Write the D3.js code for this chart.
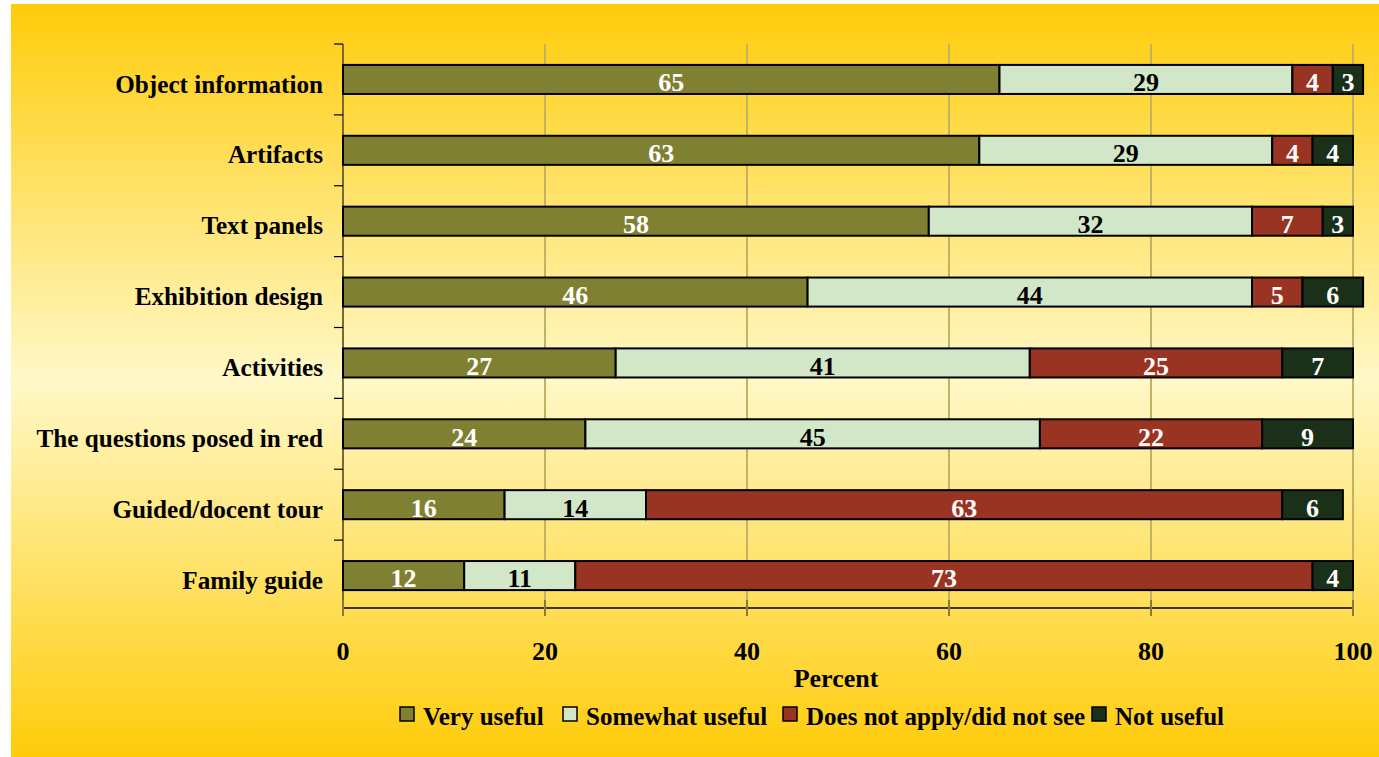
<!DOCTYPE html>
<html>
<head>
<meta charset="utf-8">
<script src="https://cdn.jsdelivr.net/npm/d3@7"></script>
<style>
  body { margin: 0; background: #fff; }
  svg text { font-family: "Liberation Serif", "DejaVu Serif", serif; font-weight: bold; }
</style>
</head>
<body>
<svg id="chart" width="1379" height="757"></svg>
<script>
// chart data
var categories = ['Object information', 'Artifacts', 'Text panels', 'Exhibition design',
  'Activities', 'The questions posed in red', 'Guided/docent tour', 'Family guide'];
var seriesNames = ['Very useful', 'Somewhat useful', 'Does not apply/did not see', 'Not useful'];
var veryUseful = [65, 63, 58, 46, 27, 24, 16, 12];
var somewhatUseful = [29, 29, 32, 44, 41, 45, 14, 11];
var doesNotApply = [4, 4, 7, 5, 25, 22, 63, 73];
var notUseful = [3, 4, 3, 6, 7, 9, 6, 4];
var xTicks = [0, 20, 40, 60, 80, 100];

var colors = ['#808033', '#D2E6C8', '#993322', '#1A3018'];
var labelColors = ['#fff', '#000', '#fff', '#fff'];

var svg = d3.select('#chart');

// background gradient, gold on top and bottom, pale in the middle
var grad = svg.append('defs').append('linearGradient')
  .attr('id', 'bg').attr('x1', 0).attr('y1', 0).attr('x2', 0).attr('y2', 1);
grad.append('stop').attr('offset', '0%').attr('stop-color', '#FFCC0A');
grad.append('stop').attr('offset', '50%').attr('stop-color', '#FFF8C8');
grad.append('stop').attr('offset', '100%').attr('stop-color', '#FFCC0A');
svg.append('rect').attr('x', 11).attr('y', 4).attr('width', 1368).attr('height', 753)
  .attr('fill', 'url(#bg)');

var plotL = 343, plotR = 1353, plotT = 44, plotB = 611;

var x = d3.scaleLinear().domain([0, 100]).range([plotL, plotR]);
var y = d3.scaleBand().domain(categories).range([plotT, plotB]).paddingInner(0.59).paddingOuter(0.295);
var yb = d3.scaleBand().domain(categories).range([plotT, plotB]);

// grid lines
svg.append('g').selectAll('line').data(xTicks.slice(1)).join('line')
  .attr('x1', d => x(d)).attr('x2', d => x(d))
  .attr('y1', plotT).attr('y2', plotB)
  .attr('stroke', '#C4B264').attr('stroke-width', 2);

// y axis line and ticks
svg.append('line').attr('x1', plotL).attr('x2', plotL).attr('y1', plotT).attr('y2', plotB)
  .attr('stroke', '#7A6A30').attr('stroke-width', 2);
var yTickPos = categories.map(c => yb(c));
svg.append('g').selectAll('line').data(yTickPos).join('line')
  .attr('x1', plotL - 9).attr('x2', plotL).attr('y1', d => d).attr('y2', d => d)
  .attr('stroke', '#000').attr('stroke-width', 1.2);

// category labels
svg.append('g').selectAll('text').data(categories).join('text')
  .attr('x', 323).attr('y', d => y(d) + y.bandwidth() / 2 + 4)
  .attr('dy', '0.36em').attr('text-anchor', 'end')
  .attr('font-size', 25.2).attr('fill', '#000')
  .text(d => d);

// stacked bars
var rows = categories.map(function(c, i) {
  return { cat: c, vals: [veryUseful[i], somewhatUseful[i], doesNotApply[i], notUseful[i]] };
});
var stackData = [];
rows.forEach(function(r) {
  var acc = 0;
  r.vals.forEach(function(v, k) {
    stackData.push({ cat: r.cat, k: k, v: v, x0: acc, x1: acc + v });
    acc += v;
  });
});

var bars = svg.append('g');
bars.selectAll('rect').data(stackData).join('rect')
  .attr('x', d => x(d.x0)).attr('width', d => x(d.x1) - x(d.x0))
  .attr('y', d => y(d.cat)).attr('height', y.bandwidth())
  .attr('fill', d => colors[d.k]).attr('stroke', '#000').attr('stroke-width', 2);

bars.selectAll('text').data(stackData).join('text')
  .attr('x', d => (x(d.x0) + x(d.x1)) / 2)
  .attr('y', d => y(d.cat) + y.bandwidth() / 2 + 1.5)
  .attr('dy', '0.4em').attr('text-anchor', 'middle')
  .attr('font-size', 26).attr('fill', d => labelColors[d.k])
  .text(d => d.v);

// x axis
svg.append('line').attr('x1', plotL).attr('x2', plotR).attr('y1', 608).attr('y2', 608)
  .attr('stroke', '#000').attr('stroke-width', 1.5);
svg.append('g').selectAll('line').data(xTicks).join('line')
  .attr('x1', d => x(d)).attr('x2', d => x(d)).attr('y1', 600).attr('y2', 616)
  .attr('stroke', '#8A7A40').attr('stroke-width', 2);
svg.append('g').selectAll('text').data(xTicks).join('text')
  .attr('x', d => x(d)).attr('y', 660).attr('text-anchor', 'middle')
  .attr('font-size', 26).attr('fill', '#000')
  .text(d => d);
svg.append('text').attr('x', 836).attr('y', 687).attr('text-anchor', 'middle')
  .attr('font-size', 26).attr('fill', '#000').text('Percent');

// legend
var legendX = [400, 563, 783, 1092];
var lg = svg.append('g').selectAll('g').data(seriesNames).join('g')
  .attr('transform', (d, i) => 'translate(' + legendX[i] + ',707)');
lg.append('rect').attr('width', 14).attr('height', 14)
  .attr('fill', (d, i) => colors[i]).attr('stroke', '#000').attr('stroke-width', 1.5);
lg.append('text').attr('x', 23).attr('y', 18).attr('font-size', 25)
  .attr('fill', '#000').text(d => d);
</script>
</body>
</html>
